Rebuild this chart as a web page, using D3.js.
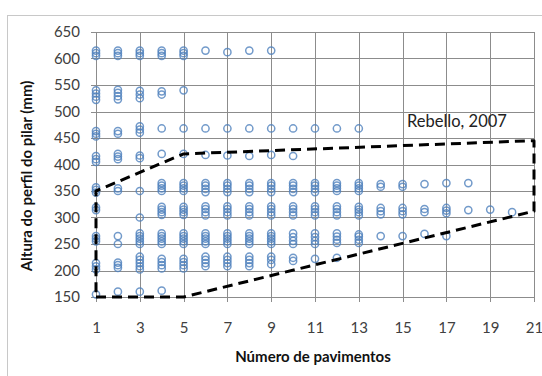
<!DOCTYPE html>
<html><head><meta charset="utf-8">
<script src="https://cdn.jsdelivr.net/npm/d3@7"></script>
<style>html,body{margin:0;padding:0;background:#fff;}svg{display:block;}</style>
</head><body>
<script>
// ---- data ----
const pavimentos = [1,2,3,4,5,6,7,8,9,10,11,12,13,14,15,16,17,18,19,20];
const alturas = [
  [605,610,615, 522,528,534,540, 453,458,463, 405,410,416, 347,352,357, 314,319, 255,260,265, 202,208,214, 155],
  [605,610,615, 523,529,535,541, 458,463, 410,415,420, 350,355, 250,265, 205,210,215, 160],
  [605,610,615, 525,532,539, 460,466,472, 412,417, 350, 300, 250,255,260,265,270, 202,208,214,220,226, 160],
  [605,610,615, 532,538, 468, 420, 350,355,360,365, 305,310,315,320, 250,255,260,265,270, 204,210,216,222, 162],
  [605,610,615, 540, 468, 420, 350,355,360,365, 305,310,315,320, 250,255,260,265,270, 204,210,216,222],
  [615, 468, 418, 348,354,360,365, 304,310,316,321, 250,255,260,265,270, 208,214,220,226],
  [612, 468, 417, 348,354,360,365, 304,310,316,321, 250,255,260,265,270, 208,214,220,226],
  [615, 468, 416, 348,354,360,365, 304,310,316,321, 250,255,260,265,270, 208,214,220,226],
  [615, 468, 418, 348,354,360,365, 304,310,316,321, 250,255,260,265,270, 212,220,226],
  [468, 416, 348,354,360,365, 304,310,316,321, 250,256,263,270, 218,224],
  [468, 348,354,360,365, 304,310,316,321, 250,256,263,270, 222],
  [468, 350,355,360,365, 304,310,316,321, 252,258,264,270, 224],
  [468, 350,355,360,365, 304,310,315,320, 252,258,264,268],
  [358,363, 306,312,318, 265],
  [358,363, 306,312,318, 265],
  [363, 310,316, 269],
  [365, 308,313,318, 265],
  [365, 314],
  [315],
  [310]
];
const xTicks = [1,3,5,7,9,11,13,15,17,19,21];
const yTicks = [150,200,250,300,350,400,450,500,550,600,650];
const limiteX = [1,5,21,21,5,1,1];
const limiteY = [150,150,312,445,420,350,150];
const anotacao = "Rebello, 2007";
const tituloX = "Número de pavimentos";
const tituloY = "Altura do perfil do pilar (mm)";

// ---- chart ----
const W = 542, H = 376;
const svg = d3.select("body").append("svg").attr("width", W).attr("height", H);
const font = "Lato, 'Open Sans', sans-serif";

svg.append("rect").attr("x", 7.5).attr("y", 15.5).attr("width", 600).attr("height", 400)
  .attr("fill", "none").attr("stroke", "#c8c8c8").attr("stroke-width", 1);

const x = d3.scaleLinear().domain([1, 21]).range([96, 534]);
const y = d3.scaleLinear().domain([150, 650]).range([297, 32]);

const grid = svg.append("g").attr("stroke", "#8c8c8c").attr("stroke-width", 1).attr("shape-rendering", "crispEdges");
grid.selectAll("line.v").data(xTicks).join("line").attr("class", "v")
  .attr("x1", d => Math.round(x(d)) + 0.5).attr("x2", d => Math.round(x(d)) + 0.5)
  .attr("y1", y(650)).attr("y2", y(150) + 5);
grid.selectAll("line.h").data(yTicks).join("line").attr("class", "h")
  .attr("y1", d => Math.round(y(d)) + 0.5).attr("y2", d => Math.round(y(d)) + 0.5)
  .attr("x1", x(1) - 5).attr("x2", x(21));

// axes labels via d3 axes (no domain / tick lines)
const xAxis = svg.append("g").attr("transform", `translate(0,${y(150)})`)
  .call(d3.axisBottom(x).tickValues(xTicks).tickSize(0).tickPadding(25));
const yAxis = svg.append("g").attr("transform", `translate(${x(1)},0)`)
  .call(d3.axisLeft(y).tickValues(yTicks).tickSize(0).tickPadding(16));
[xAxis, yAxis].forEach(a => {
  a.select(".domain").remove();
  a.selectAll("text").attr("font-family", font).attr("font-size", 15).attr("fill", "#404040");
});

// points
const pts = [];
pavimentos.forEach((p, i) => alturas[i].forEach(v => pts.push([p, v])));
svg.append("g").selectAll("circle").data(pts).join("circle")
  .attr("cx", d => x(d[0])).attr("cy", d => y(d[1])).attr("r", 3.6)
  .attr("fill", "none").attr("stroke", "#4f81bd").attr("stroke-width", 1.5).attr("stroke-opacity", 0.8);

// dashed limit polygon
const line = d3.line().x(d => x(d[0])).y(d => y(d[1]));
svg.append("path").datum(limiteX.map((v, i) => [v, limiteY[i]]))
  .attr("d", line).attr("fill", "none").attr("stroke", "#000").attr("stroke-width", 3)
  .attr("stroke-dasharray", "10,6").attr("stroke-linejoin", "round");

// annotation
svg.append("text").attr("x", 407).attr("y", 127).text(anotacao)
  .attr("font-family", font).attr("font-size", 16.5).attr("fill", "#222");

// titles
svg.append("text").attr("x", 313).attr("y", 362).attr("text-anchor", "middle").text(tituloX)
  .attr("font-family", font).attr("font-size", 15).attr("font-weight", "bold").attr("fill", "#111");
svg.append("text").attr("transform", "translate(32,176) rotate(-90)").attr("text-anchor", "middle").text(tituloY)
  .attr("font-family", font).attr("font-size", 15).attr("font-weight", "bold").attr("fill", "#111");
</script>
</body></html>
